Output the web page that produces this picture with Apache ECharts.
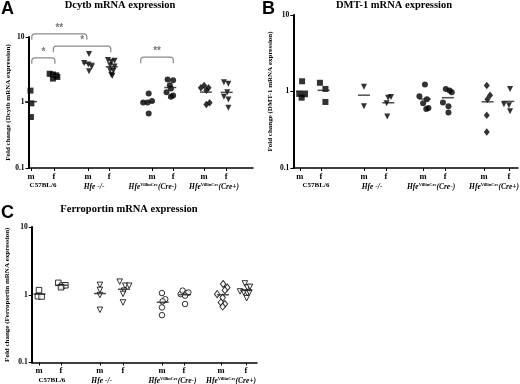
<!DOCTYPE html>
<html><head><meta charset="utf-8">
<script src="https://cdn.jsdelivr.net/npm/echarts@6/dist/echarts.min.js"></script>
<style>html,body{margin:0;padding:0;background:#fff}#c{width:520px;height:384px}</style>
</head><body><div id="c"></div>
<script>
// ---------- text ----------
const sexLabels = ['m','f','m','f','m','f','m','f'];
const groupLabels = ['C57BL/6', '{i|Hfe -/-}', '{i|Hfe}{s|VillinCre}{i|(Cre-)}', '{i|Hfe}{s|VillinCre}{i|(Cre+)}'];
const panelTitles = ['Dcytb mRNA expression', 'DMT-1 mRNA expression', 'Ferroportin mRNA expression'];
const panelLetters = ['A', 'B', 'C'];
const yNames = ['Fold change (Dcytb mRNA expression)', 'Fold change (DMT-1 mRNA expression)', 'Fold change (Ferroportin mRNA expression)'];
const yTicks = [0.1, 1, 10];

// ---------- data: [jitter offset from the m/f tick, fold change] ----------
// Panel A: Dcytb
const dcytbC57m    = [[-0.02,1.52],[0.02,0.97],[0,0.60]];
const dcytbC57f    = [[-0.2,2.75],[-0.05,2.68],[0.1,2.6],[0.15,2.45],[-0.05,2.32]];
const dcytbKOm     = [[0.05,5.5],[-0.17,4.0],[0.02,3.8],[0.17,3.5],[0.05,3.0]];
const dcytbKOf     = [[-0.05,4.45],[0.25,4.35],[0.1,4.2],[0.05,3.7],[0.25,3.55],[0.05,3.1],[0.2,3.05],[0.1,2.65],[0.15,2.55]];
const dcytbCreNegM = [[-0.4,1.0],[-0.2,1.0],[0.0,1.05],[-0.15,1.37],[-0.15,0.68]];
const dcytbCreNegF = [[-0.25,2.24],[0.0,2.19],[-0.15,1.84],[-0.1,1.64],[-0.3,1.44],[0.0,1.28],[-0.1,1.22]];
const dcytbCrePosM = [[-0.15,1.68],[0.0,1.82],[0.2,1.68],[0.1,1.54],[0.1,0.93],[0.25,0.99]];
const dcytbCrePosF = [[-0.1,2.04],[0.1,1.93],[0.05,1.44],[-0.1,1.22],[0.1,1.11],[0.1,0.83]];
// Panel B: DMT-1
const dmtC57m    = [[0.1,1.36],[-0.03,0.93],[0.23,0.92],[0.08,0.83]];
const dmtC57f    = [[-0.05,1.30],[0.2,1.08],[0.2,0.73]];
const dmtKOm     = [[0,1.15],[0,0.64]];
const dmtKOf     = [[0.1,0.83],[0.23,0.85],[0.03,0.70],[0.06,0.47]];
const dmtCreNegM = [[0.08,1.23],[-0.17,0.87],[0.17,0.79],[0,0.70],[0.14,0.59],[0.24,0.61]];
const dmtCreNegF = [[0.03,1.08],[0.2,1.03],[0.3,0.98],[-0.1,0.72],[0.15,0.64],[0.15,0.53]];
const dmtCrePosM = [[0.12,1.20],[0.27,0.89],[0.15,0.79],[0.12,0.49],[0.12,0.295]];
const dmtCrePosF = [[0.05,1.08],[-0.23,0.68],[0,0.66],[0.05,0.55]];
// Panel C: Ferroportin
const fpnC57m    = [[0,1.17],[-0.05,0.95],[0.12,0.94]];
const fpnC57f    = [[-0.12,1.50],[0.05,1.36],[0.2,1.38],[0,1.29]];
const fpnKOm     = [[0,1.40],[0,1.18],[0,0.99],[0,0.60]];
const fpnKOf     = [[-0.15,1.56],[0.1,1.36],[0.28,1.36],[0.05,1.15],[0,1.03],[0,0.77]];
const fpnCreNegM = [[0,1.06],[0.15,0.86],[0.03,0.80],[0,0.65],[0,0.50]];
const fpnCreNegF = [[-0.15,1.02],[-0.06,1.15],[0.12,1.06],[0.2,1.08],[0.05,0.97],[0.05,0.73]];
const fpnCrePosM = [[0.1,1.44],[0.29,1.28],[0.18,1.17],[-0.17,1.02],[0.08,0.91],[0,0.77],[0.18,0.73],[0.08,0.67]];
const fpnCrePosF = [[-0.05,1.47],[0.06,1.28],[0.18,1.31],[-0.27,1.12],[-0.1,1.08],[0.06,1.05],[0.15,1.08],[0.03,0.89]];

// Significance brackets (panel A): start x, end x, top level, label
const bracketStart = [0.15, 0.15, 1.13, 5.1];
const bracketEnd   = [1.2, 2.65, 3.74, 6.58];
const bracketTop   = [4.81, 11.2, 7.24, 4.92];
const bracketText  = ['*', '**', '*', '**'];

// ---------- layout ----------
const SERIF = '"Liberation Serif","DejaVu Serif",serif';
const SANS = '"Liberation Sans","DejaVu Sans",sans-serif';
const panels = [
  { grid:{left:28.5, top:37, width:224.5, height:131}, max:10.2,
    ticks:[0.11,1.16,2.7,3.66,5.61,6.57,7.98,8.98], centers:[0.66,2.98,5.64,8.43],
    groups:[dcytbC57m,dcytbC57f,dcytbKOm,dcytbKOf,dcytbCreNegM,dcytbCreNegF,dcytbCrePosM,dcytbCrePosF],
    hollow:false, nameGap:17, title:[120,5], letter:[1,0] },
  { grid:{left:293.3, top:15, width:224.7, height:153}, max:10.21,
    ticks:[0.3,1.26,3.21,4.21,5.9,6.9,8.67,9.8], centers:[1.03,3.58,6.26,9.12],
    groups:[dmtC57m,dmtC57f,dmtKOm,dmtKOf,dmtCreNegM,dmtCreNegF,dmtCrePosM,dmtCrePosF],
    hollow:false, nameGap:20, title:[394,5], letter:[262,0] },
  { grid:{left:31.7, top:227, width:225.3, height:135.5}, max:10.24,
    ticks:[0.33,1.33,3.1,4.15,5.92,6.92,8.6,9.74], centers:[0.92,3.18,6.4,9.06],
    groups:[fpnC57m,fpnC57f,fpnKOm,fpnKOf,fpnCreNegM,fpnCreNegF,fpnCrePosM,fpnCrePosF],
    hollow:true, nameGap:21, title:[129,209], letter:[1,204] }
];
const symbols = ['rect','rect','triangle','triangle','circle','circle','diamond','triangle'];
const rotations = [0,0,180,180,0,0,0,180];

const grids = [], xAxes = [], yAxes = [], series = [], graphics = [];
panels.forEach((p, pi) => {
  grids.push(Object.assign({outerBoundsMode:'none', containLabel:false}, p.grid));
  xAxes.push({
    gridIndex: pi, type:'value', min:0, max:p.max, position:'bottom',
    axisLine:{show:true, onZero:false, lineStyle:{color:'#000', width:1.5}},
    axisTick:{show:true, customValues:p.ticks, length:3, lineStyle:{color:'#000', width:1}},
    axisLabel:{show:true, customValues:p.ticks, margin:4, color:'#000', fontFamily:SERIF, fontWeight:'bold', fontSize:8.5,
      formatter:(v)=>{ let k=0, d=1e9; p.ticks.forEach((t,i)=>{ if(Math.abs(t-v)<d){d=Math.abs(t-v);k=i;} }); return sexLabels[k]; }},
    splitLine:{show:false}
  });
  xAxes.push({
    gridIndex: pi, type:'value', min:0, max:p.max, position:'bottom',
    axisLine:{show:false}, axisTick:{show:false}, splitLine:{show:false},
    axisLabel:{show:true, customValues:p.centers, margin:14, color:'#000', fontFamily:SERIF, fontWeight:'bold', fontSize:7,
      formatter:(v)=>{ let k=0, d=1e9; p.centers.forEach((t,i)=>{ if(Math.abs(t-v)<d){d=Math.abs(t-v);k=i;} }); return groupLabels[k]; },
      rich:{ i:{fontFamily:SERIF, fontWeight:'bold', fontStyle:'italic', fontSize:7.5, color:'#000', lineHeight:10},
             s:{fontFamily:SERIF, fontWeight:'bold', fontSize:4.5, color:'#000', verticalAlign:'top', lineHeight:10} }}
  });
  yAxes.push({
    gridIndex: pi, type:'log', logBase:10, min:0.1, max:10,
    name: yNames[pi], nameLocation:'middle', nameGap:p.nameGap,
    nameTextStyle:{fontFamily:SERIF, fontWeight:'bold', fontSize:7, color:'#000'},
    axisLine:{show:true, lineStyle:{color:'#000', width:2}},
    axisTick:{show:true, length:3, lineStyle:{color:'#000'}},
    minorTick:{show:false}, splitLine:{show:false},
    axisLabel:{margin:4, color:'#000', fontFamily:SERIF, fontWeight:'bold', fontSize:7.5,
      formatter:(v)=>{ let k=0,d=1e9; yTicks.forEach((t,i)=>{ const dd=Math.abs(Math.log10(t)-Math.log10(v)); if(dd<d){d=dd;k=i;} }); return String(yTicks[k]); }}
  });
  p.groups.forEach((pts, g) => {
    const tick = p.ticks[g];
    series.push({
      type:'scatter', xAxisIndex: pi*2, yAxisIndex: pi,
      symbol: symbols[g], symbolRotate: rotations[g],
      symbolSize: p.hollow ? (symbols[g]==='diamond'?[5.5,7]:5.5) : (symbols[g]==='diamond'?[6,7.5]:6),
      itemStyle: p.hollow ? {color:'#fff', borderColor:'#000', borderWidth:1} : {color:'#000'},
      data: pts.map(q => [tick + q[0], q[1]]),
      silent:true, z:3
    });
    const mean = pts.reduce((s,q)=>s+q[1],0)/pts.length;
    const mdx = pts.reduce((s,q)=>s+q[0],0)/pts.length;
    series.push({
      type:'scatter', xAxisIndex: pi*2, yAxisIndex: pi,
      symbol:'rect', symbolSize:[12,1.5], itemStyle:{color:'#222'},
      data:[[tick + mdx, mean]], silent:true, z:4
    });
  });
  graphics.push({type:'text', x:p.title[0], y:p.title[1],
    style:{text:panelTitles[pi], font:'bold 10.5px '+SERIF, fill:'#000', align:'center', verticalAlign:'middle', textAlign:'center', textVerticalAlign:'middle'}});
  graphics.push({type:'text', x:p.letter[0], y:p.letter[1],
    style:{text:panelLetters[pi], font:'bold 18px '+SANS, fill:'#000', align:'left', verticalAlign:'top'}});
});

// brackets (panel A)
series.push({
  type:'custom', xAxisIndex:0, yAxisIndex:0, clip:false, silent:true, z:2,
  encode:{x:[0,1], y:2},
  data: bracketStart.map((s,i)=>[s, bracketEnd[i], bracketTop[i]]),
  renderItem:(params, api)=>{
    const a = api.coord([api.value(0), api.value(2)]);
    const b = api.coord([api.value(1), api.value(2)]);
    const drop = 6, r = 3;
    const x1=a[0], x2=b[0], yt=a[1], yb=a[1]+drop;
    const w = x2-x1;
    const path = `M0 ${drop} L0 ${r} Q0 0 ${r} 0 L${w-r} 0 Q${w} 0 ${w} ${r} L${w} ${drop}`;
    return {type:'group', children:[
      {type:'path', shape:{pathData:path, x:x1, y:yt, width:w, height:drop},
       style:{stroke:'#8a8a8a', lineWidth:1.2, fill:null}},
      {type:'text', x:(x1+x2)/2, y:yt-1,
       style:{text:bracketText[params.dataIndex], font:'bold 10px '+SANS, fill:'#777', align:'center', verticalAlign:'bottom'}}
    ]};
  }
});

const chart = echarts.init(document.getElementById('c'), null, {renderer:'canvas'});
chart.setOption({
  animation:false, backgroundColor:'#fff',
  grid: grids, xAxis: xAxes, yAxis: yAxes, series: series, graphic: graphics
});
</script>
</body></html>
